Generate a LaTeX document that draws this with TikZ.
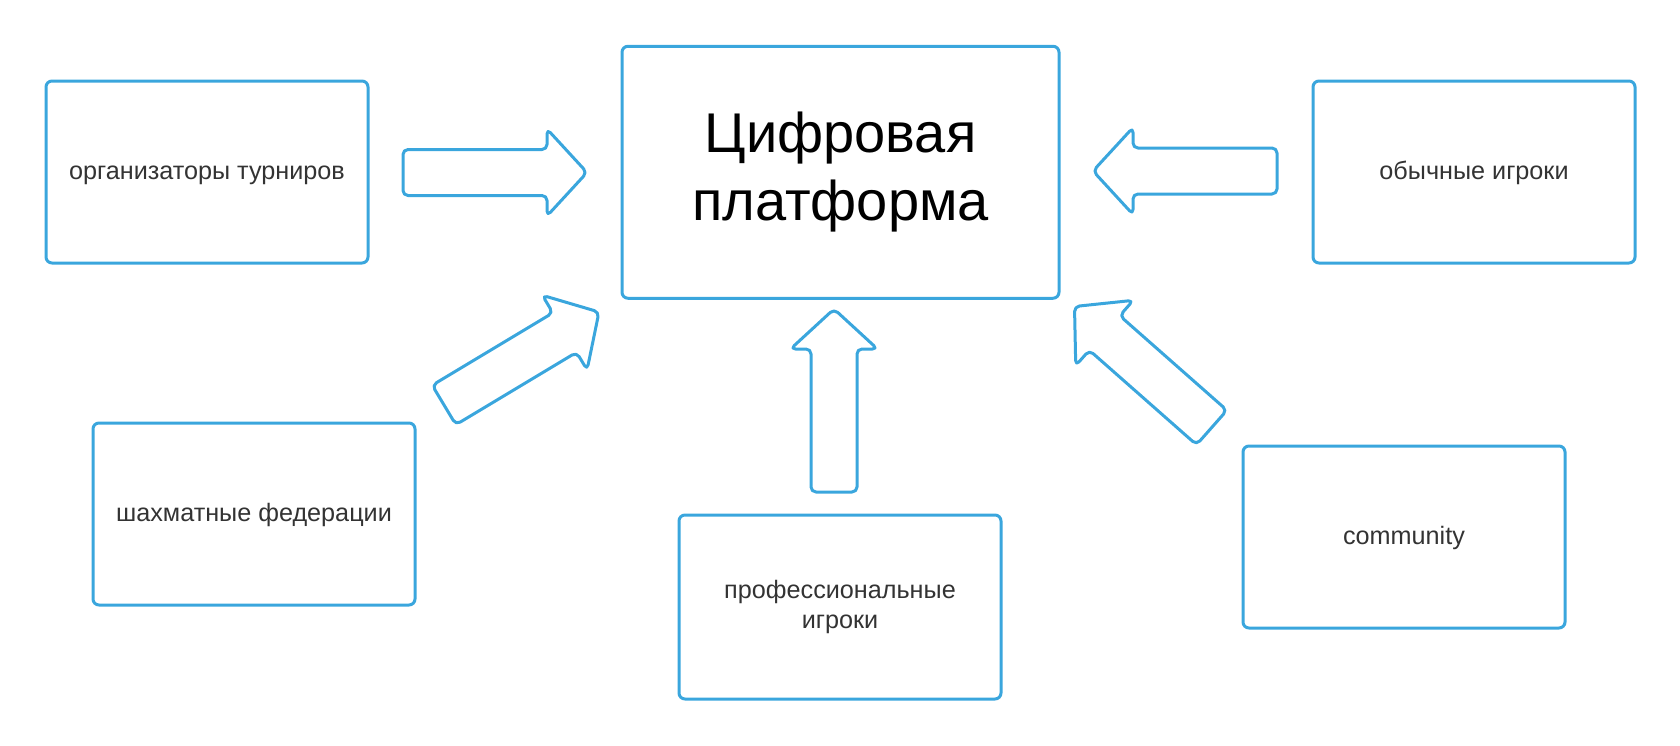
\documentclass[tikz,border=0pt]{standalone}
\usepackage{fontspec}
\setmainfont{Liberation Sans}
\usetikzlibrary{calc}
\definecolor{lblue}{RGB}{58,166,221}
\definecolor{ltext}{RGB}{51,51,51}
\tikzset{
  box/.style={draw=lblue, line width=3pt, rounded corners=6pt, text=ltext,
    font=\fontsize{25.2}{30}\selectfont, align=center, inner sep=0pt,
    minimum width=322pt, minimum height=182pt},
  oneline/.style={text height=18pt, text depth=4pt},
  blockarr/.style={draw=lblue, line width=3pt, rounded corners=5pt, line join=round},
}
\newcommand{\bigarrow}[2]{%
  \coordinate (#1-hb) at ($(#2)!40pt!(#1)$);
  \draw[blockarr] ($(#1)!23pt!90:(#2)$) -- ($(#1-hb)!23pt!90:(#2)$)
    -- ($(#1-hb)!43.5pt!90:(#2)$) -- (#2) -- ($(#1-hb)!43.5pt!-90:(#2)$)
    -- ($(#1-hb)!23pt!-90:(#2)$) -- ($(#1)!23pt!-90:(#2)$) -- cycle;
}
\begin{document}
\begin{tikzpicture}[x=1pt,y=1pt]
\useasboundingbox (0,0) rectangle (1680,-745);
% boxes
\node[box, oneline] (org) at (207,-172) {организаторы турниров};
\node[box, minimum width=437pt, minimum height=252pt, text=black,
  font=\fontsize{56}{68}\selectfont] (plat) at (840.5,-172.25) {Цифровая\\платформа};
\node[box, oneline] (usual) at (1474,-172) {обычные игроки};
\node[box, oneline] (fed) at (254,-514) {шахматные федерации};
\node[box, minimum height=184pt] (pro) at (840,-607) {профессиональные\\игроки};
\node[box, oneline] (comm) at (1404,-537) {community};
% block arrows
\coordinate (t1) at (403,-172.5);  \coordinate (h1) at (587,-172.5);
\coordinate (t2) at (1277,-171);   \coordinate (h2) at (1093,-171);
\coordinate (t3) at (834,-492);    \coordinate (h3) at (834,-309);
\coordinate (t4) at (444,-405);    \coordinate (h4) at (599,-312);
\coordinate (t5) at (1211.7,-427.5); \coordinate (h5) at (1074.5,-306.5);
\bigarrow{t1}{h1}
\bigarrow{t2}{h2}
\bigarrow{t3}{h3}
\bigarrow{t4}{h4}
\bigarrow{t5}{h5}
\end{tikzpicture}
\end{document}
